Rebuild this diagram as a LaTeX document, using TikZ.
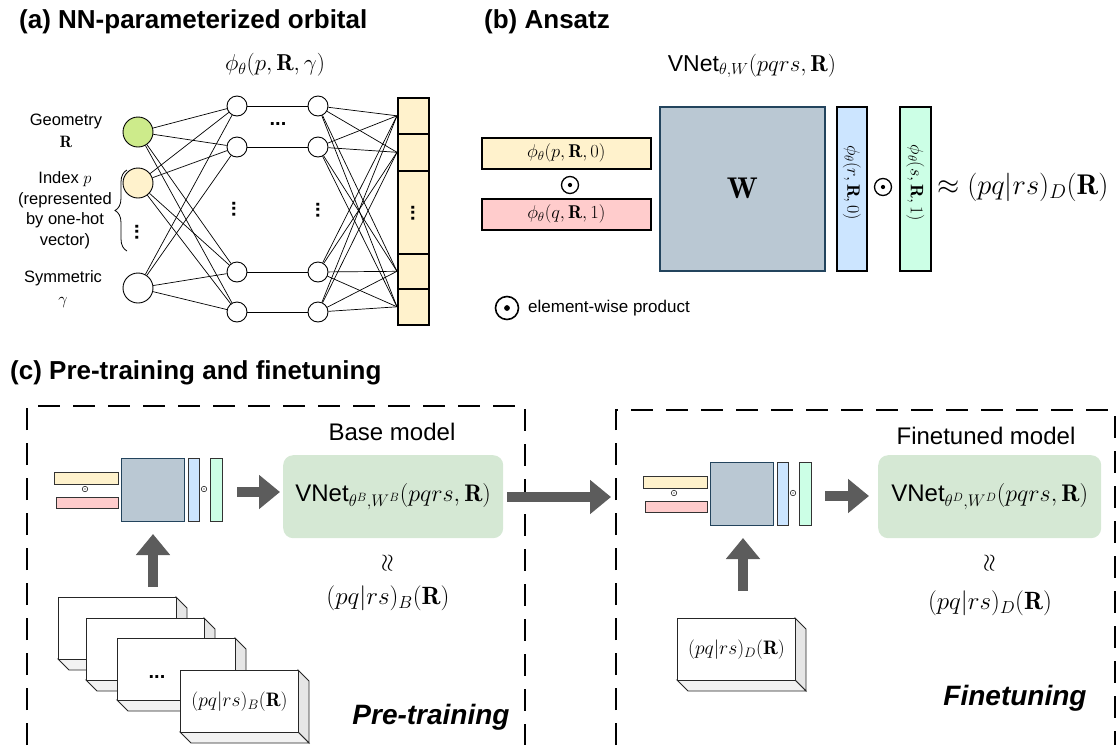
\RequirePackage{fix-cm}
\documentclass[tikz,border=0pt]{standalone}
\usepackage{amsmath}
\usepackage{fontspec}
\setsansfont{Liberation Sans}
\usetikzlibrary{decorations.pathreplacing,arrows.meta}
\definecolor{cgreen}{HTML}{CDEB8B}
\definecolor{cyel}{HTML}{FFF2CC}
\definecolor{cpink}{HTML}{FFCCCC}
\definecolor{cW}{HTML}{BAC8D3}
\definecolor{cWd}{HTML}{23445D}
\definecolor{cblue}{HTML}{CCE5FF}
\definecolor{cmint}{HTML}{CCFFE6}
\definecolor{cbox}{HTML}{D5E8D4}
\definecolor{carrow}{HTML}{5C5C5C}
\definecolor{cside}{HTML}{E6E6E6}
\definecolor{cbot}{HTML}{F2F2F2}
\newcommand\fsz[2]{\fontsize{#1}{#2}\selectfont}
\newcommand\mycard[4]{%
  \path[draw=black!85, line width=0.9pt, fill=cside] (#2+118,#3) -- ++(11,11) -- ++(0,62) -- ++(-11,-11) -- cycle;
  \path[draw=black!85, line width=0.9pt, fill=cbot] (#2,#3+62) -- ++(118,0) -- ++(11,11) -- ++(-118,0) -- cycle;
  \node[cardfront] (#1) at (#2,#3) {#4};
}
\begin{document}
\begin{tikzpicture}[x=1pt,y=-1pt,
  every node/.style={inner sep=0pt},
  neuron/.style={circle, draw, line width=0.9pt, fill=white, minimum size=20},
  inp/.style={circle, draw, line width=0.9pt, minimum size=30},
  cell/.style={draw, line width=1.6pt, fill=cyel, anchor=north west, minimum width=31},
  edge/.style={line width=0.7pt},
  dots/.style={font=\sffamily\bfseries\fsz{20}{20}},
  lab/.style={font=\sffamily\fsz{16.5}{20.5}, align=center},
  title/.style={anchor=west, font=\sffamily\bfseries\fsz{26}{30}},
  bbox/.style={draw, line width=1.6pt, anchor=north west},
  mbox/.style={draw=black!80, line width=0.9pt, anchor=north west},
  odot/.style={circle, draw, fill=white, inner sep=0pt, minimum size=#1,
    path picture={\fill[black] (path picture bounding box.center) circle[radius=#1/8];}},
  gbox/.style={fill=cbox, rounded corners=10pt, anchor=north west},
  cardfront/.style={draw=black!85, line width=0.9pt, fill=white, anchor=north west,
    minimum width=118, minimum height=62, font=\fsz{19.5}{22}},
  bigarrow/.style={line width=10pt, draw=carrow, -{Triangle[length=21pt,width=33pt]}},
  dashbox/.style={line width=2pt, dash pattern=on 22pt off 13pt},
  mini/.pic={
    \node[mbox, fill=cyel, minimum width=64, minimum height=12] (-y) at (-67,14) {};
    \node[odot=5.5, line width=0.5pt] (-o1) at (-36,31) {};
    \node[mbox, fill=cpink, minimum width=62, minimum height=11] (-p) at (-65,39) {};
    \node[mbox, draw=cWd, fill=cW, minimum width=63, minimum height=63] (-w) at (0,0) {};
    \node[mbox, fill=cblue, minimum width=11, minimum height=63] (-b) at (67,0) {};
    \node[odot=5.5, line width=0.5pt] (-o2) at (83,31) {};
    \node[mbox, fill=cmint, minimum width=12, minimum height=63] (-g) at (89,0) {};
  }
]
\useasboundingbox (0,0) rectangle (1117,745);

% ---------------- (a)
\node[title] (ta) at (19,22) {(a) NN-parameterized orbital};
\node[font=\fsz{23}{26}] (phi) at (275,65) {$\phi_\theta(p,\mathbf{R},\gamma)$};
\node[inp, fill=cgreen] (in1) at (138,132) {};
\node[inp, fill=cyel] (in2) at (138,183) {};
\node[inp, fill=white] (in3) at (138,288) {};
\foreach \i/\y in {1/106,2/147,3/272,4/312} {
  \node[neuron] (h\i) at (237,\y) {};
  \node[neuron] (g\i) at (318,\y) {};
}
\foreach \n/\a/\b in {o1/97/133, o2/133/170, o3/170/253, o4/253/288, o5/288/324}
  \node[cell, minimum height=\b-\a] (\n) at (397,\a) {};
\foreach \i in {1,2,3} \foreach \j in {1,...,4} \draw[edge] (in\i) -- (h\j);
\foreach \j in {1,...,4} \draw[edge] (h\j) -- (g\j);
\foreach \j in {1,...,4} \foreach \k in {1,2,4,5} \draw[edge] (g\j) -- (o\k.west);
\node[dots] (dh) at (278,124) {...};
\node[dots, rotate=90] (dv1) at (234,209) {...};
\node[dots, rotate=90] (dv2) at (318,210) {...};
\node[dots, rotate=90] (dv0) at (137,232) {...};
\node[dots, rotate=90] (dv3) at (413,213) {...};
\node[lab] (lgeo) at (66,131) {Geometry\\[1pt]$\mathbf{R}$};
\node[lab] (lidx) at (65,210) {Index $p$\\(represented\\by one-hot\\vector)};
\node[lab] (lsym) at (63,289) {Symmetric\\[1pt]$\gamma$};
\draw[line width=0.8pt, decorate, decoration={brace, amplitude=12pt}] (127,251) -- (127,170);

% ---------------- (b)
\node[title] (tb) at (484,22) {(b) Ansatz};
\node[font=\fsz{23}{26}] (vnet) at (752,66) {\textsf{VNet}$_{\theta,W}(pqrs,\mathbf{R})$};
\node[bbox, fill=cyel, minimum width=169, minimum height=31, font=\fsz{18.5}{20}] (pp) at (481,137) {$\phi_\theta(p,\mathbf{R},0)$};
\node[odot=17, line width=1.3pt] (ob1) at (570,185) {};
\node[bbox, fill=cpink, minimum width=169, minimum height=31, font=\fsz{18.5}{20}] (pq) at (481,198) {$\phi_\theta(q,\mathbf{R},1)$};
\node[bbox, draw=cWd, fill=cW, minimum width=165, minimum height=164, font=\fsz{30}{34}] (W) at (659,106) {$\mathbf{W}$};
\node[bbox, fill=cblue, minimum width=30, minimum height=164] (pr) at (836,106) {};
\node[rotate=-90, font=\fsz{18}{20}] (prt) at ([yshift=6pt]pr.center) {$\phi_\theta(r,\mathbf{R},0)$};
\node[odot=17, line width=1.3pt] (ob2) at (883,187) {};
\node[bbox, fill=cmint, minimum width=31, minimum height=164] (ps) at (899,106) {};
\node[rotate=-90, font=\fsz{18}{20}] (pst) at ([yshift=6pt]ps.center) {$\phi_\theta(s,\mathbf{R},1)$};
\node[anchor=west, font=\fsz{28.5}{32}] (apx) at (937,187) {$\approx(pq|rs)_D(\mathbf{R})$};
\node[odot=23, line width=1.6pt] (leg) at (507,308) {};
\node[anchor=west, font=\sffamily\fsz{17}{20}] (legt) at (528,308) {element-wise product};

% ---------------- (c)
\node[title] (tc) at (10,373) {(c) Pre-training and finetuning};
\draw[dashbox] (27,745) -- (27,406) -- (525,406) -- (525,745);
\draw[dashbox] (616,745) -- (616,410) -- (1115,410) -- (1115,745);

% left part
\pic (m1) at (121,458) {mini};
\node[gbox, minimum width=220, minimum height=83, font=\fsz{24}{28}] (base) at (283,455) {\textsf{VNet}$_{\theta^B,W^B}(pqrs,\mathbf{R})$};
\node[font=\sffamily\fsz{24}{28}] (bm) at (392,432) {Base model};
\node[rotate=90, font=\fsz{24}{28}] (ap1) at (388,563) {$\approx$};
\node[font=\fsz{25}{28}] (eriB) at (388,598) {$(pq|rs)_B(\mathbf{R})$};
\mycard{c1}{58}{597}{}
\mycard{c2}{86}{618}{}
\mycard{c3}{117}{638}{}
\node[dots] (d3) at (157,677) {...};
\mycard{c4}{180}{670}{$(pq|rs)_B(\mathbf{R})$}
\node[font=\sffamily\bfseries\itshape\fsz{28}{32}] (pt) at (431,717) {Pre-training};
\coordinate (a1s) at (237,492); \coordinate (a1e) at (280,492);
\draw[bigarrow] (a1s) -- (a1e);
\coordinate (u1s) at (153,587); \coordinate (u1e) at (153,534);
\draw[bigarrow] (u1s) -- (u1e);
\coordinate (tms) at (507,497); \coordinate (tme) at (611,497);
\draw[bigarrow] (tms) -- (tme);

% right part
\pic (m2) at (710,462) {mini};
\node[gbox, minimum width=223, minimum height=83, font=\fsz{24}{28}] (fine) at (878,455) {\textsf{VNet}$_{\theta^D,W^D}(pqrs,\mathbf{R})$};
\node[font=\sffamily\fsz{24}{28}] (fm) at (986,436) {Finetuned model};
\node[rotate=90, font=\fsz{24}{28}] (ap2) at (990,563) {$\approx$};
\node[font=\fsz{25}{28}] (eriD) at (990,603) {$(pq|rs)_D(\mathbf{R})$};
\mycard{c5}{677}{618}{$(pq|rs)_D(\mathbf{R})$}
\node[font=\sffamily\bfseries\itshape\fsz{28}{32}] (ft) at (1015,698) {Finetuning};
\coordinate (a2s) at (825,496); \coordinate (a2e) at (869,496);
\draw[bigarrow] (a2s) -- (a2e);
\coordinate (u2s) at (743,591); \coordinate (u2e) at (743,538);
\draw[bigarrow] (u2s) -- (u2e);
\end{tikzpicture}
\end{document}
